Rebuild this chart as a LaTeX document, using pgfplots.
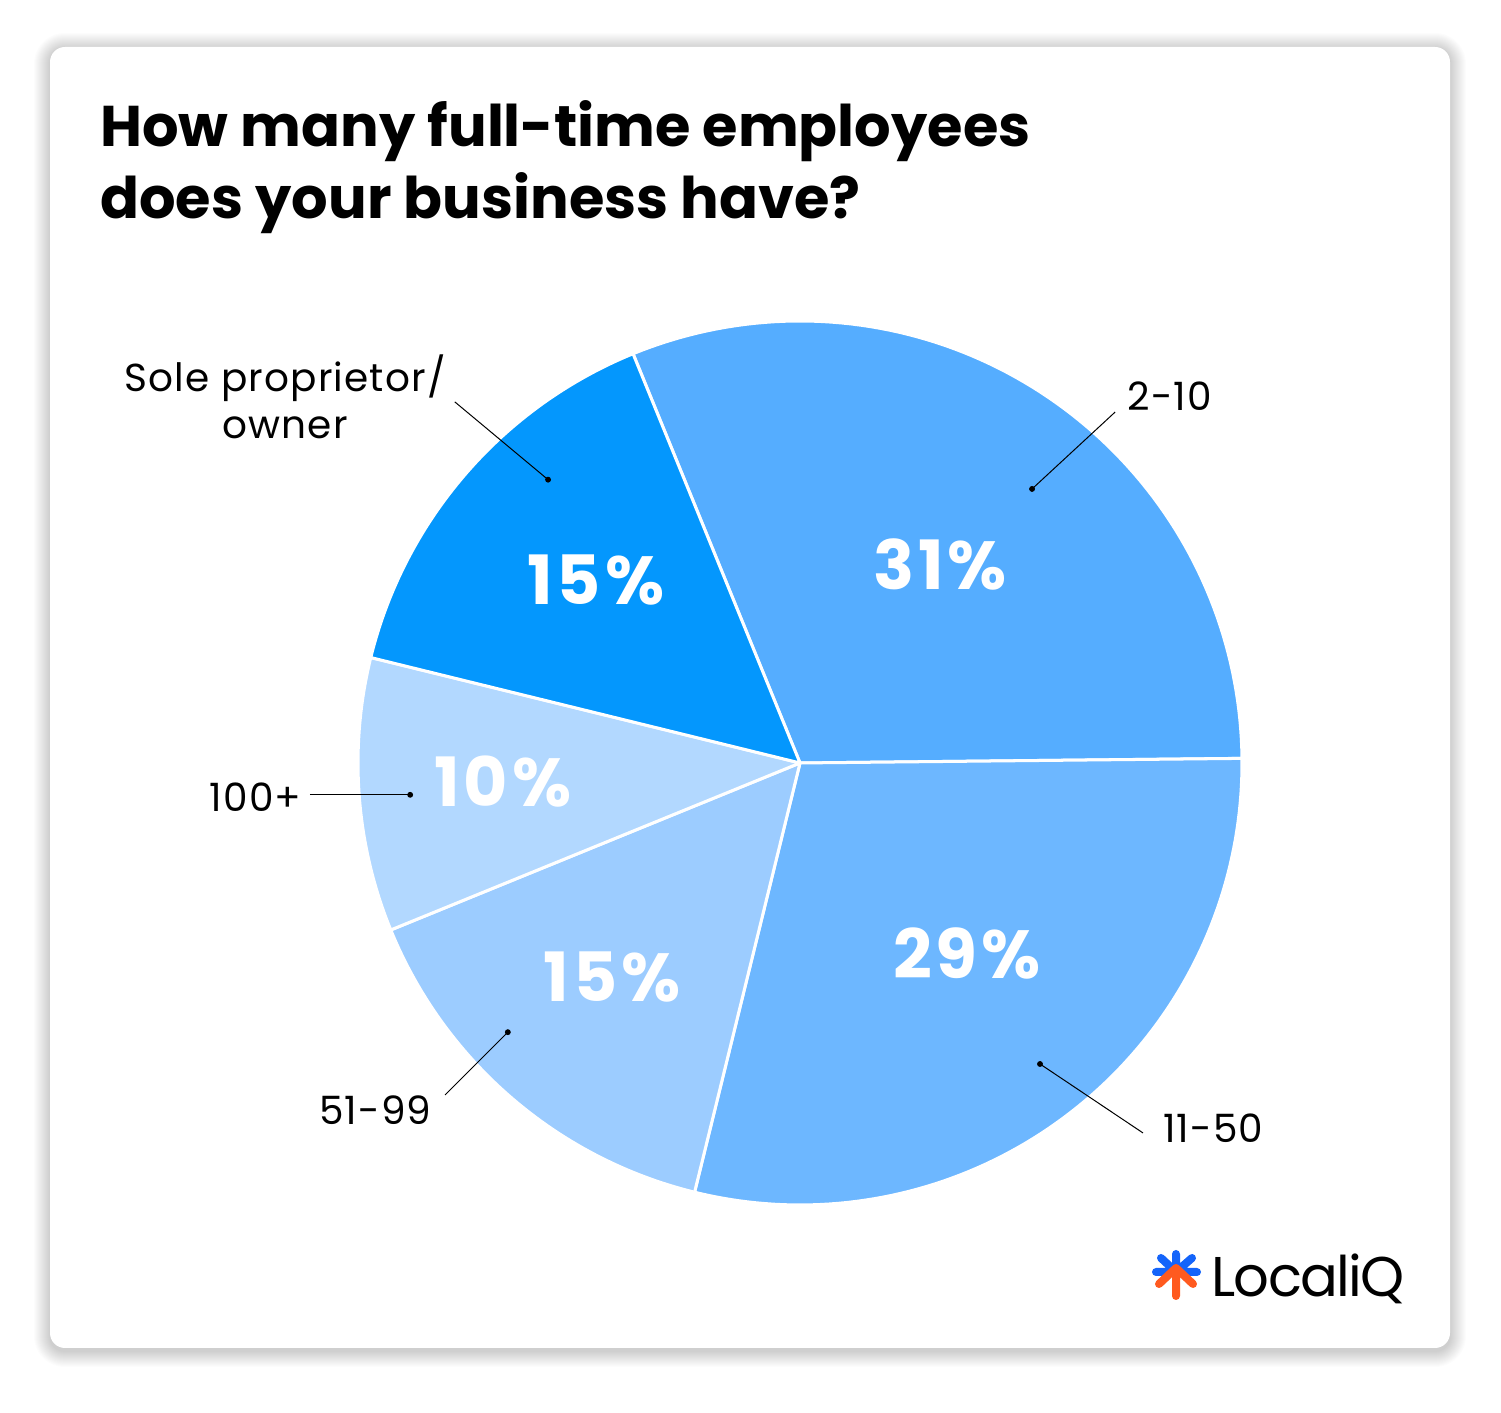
\documentclass[border=0pt]{standalone}
\usepackage{pgfplots}
\pgfplotsset{compat=1.18}
\usepackage{fontspec}
\setmainfont{Poppins}
\newfontfamily\labelfont{Poppins}[LetterSpace=3]
\newfontfamily\pctfont{Poppins}[LetterSpace=6]
\newfontfamily\logofont{Poppins}[LetterSpace=-3]
\definecolor{cSole}{HTML}{0497FD}
\definecolor{cTwo}{HTML}{55ADFF}
\definecolor{cEleven}{HTML}{6DB7FF}
\definecolor{cFifty}{HTML}{9CCCFF}
\definecolor{cHundred}{HTML}{B2D8FF}
\definecolor{logoblue}{HTML}{1464FA}
\definecolor{logoorange}{HTML}{FF5A1F}
% shares (percent), clockwise from the 2-10 slice
\def\pTwo{31}\def\pEleven{29}\def\pFifty{15}\def\pHundred{10}\def\pSole{15}
\pgfmathsetmacro\aS{112.2}
\pgfmathsetmacro\aA{\aS-\pTwo*3.6}
\pgfmathsetmacro\aB{\aA-\pEleven*3.6}
\pgfmathsetmacro\aC{\aB-\pFifty*3.6}
\pgfmathsetmacro\aD{\aC-\pHundred*3.6}
\pgfmathsetmacro\aE{\aD-\pSole*3.6}
\begin{document}
\begin{tikzpicture}[x=0.5pt,y=0.5pt]
\fill[white] (0,0) rectangle (1501,1413);
\foreach \i in {1,...,16} {
  \pgfmathsetmacro\rr{7.5+0.5*\i}
  \fill[black, opacity=0.010, rounded corners=\rr pt] (50-\i,65-\i-3) rectangle (1450+\i,1366+\i-2);
}
\fill[white, rounded corners=7.5pt] (50,65) rectangle (1450,1366);
\node[anchor=base west, inner sep=0pt, font=\bfseries\fontsize{28.7}{36}\selectfont] at (100,1266) {How many full-time employees};
\node[anchor=base west, inner sep=0pt, font=\bfseries\fontsize{28.7}{36}\selectfont] at (100,1194) {does your business have?};
% logo
\draw[logoblue, line width=4pt, line cap=round] (1176,159) -- (1176,141) (1156,141) -- (1197,141) (1161,155) -- (1176,141) -- (1192,155);
\draw[logoorange, line width=4pt, line cap=round, line join=round] (1159,129) -- (1176,145) -- (1193,129) (1176,145) -- (1176,117);
\node[anchor=base west, inner sep=0pt, font=\logofont\fontsize{28}{34}\selectfont] at (1211,116) {LocaliQ};
\begin{axis}[at={(400pt,325pt)}, anchor=origin, x=221pt, y=221pt,
  xmin=-1.6, xmax=1.6, ymin=-1.25, ymax=1.25, hide axis, clip=false]
\addplot[draw=white, line width=1.5pt, line join=round, fill=cTwo, domain=\aA:\aS, samples=90] ({cos(x)},{sin(x)}) -- (axis cs:0,0) -- cycle;
\addplot[draw=white, line width=1.5pt, line join=round, fill=cEleven, domain=\aB:\aA, samples=90] ({cos(x)},{sin(x)}) -- (axis cs:0,0) -- cycle;
\addplot[draw=white, line width=1.5pt, line join=round, fill=cFifty, domain=\aC:\aB, samples=60] ({cos(x)},{sin(x)}) -- (axis cs:0,0) -- cycle;
\addplot[draw=white, line width=1.5pt, line join=round, fill=cHundred, domain=\aD:\aC, samples=50] ({cos(x)},{sin(x)}) -- (axis cs:0,0) -- cycle;
\addplot[draw=white, line width=1.5pt, line join=round, fill=cSole, domain=\aE:\aD, samples=60] ({cos(x)},{sin(x)}) -- (axis cs:0,0) -- cycle;
% percentages
\begin{scope}[every node/.style={text=white, font=\pctfont\bfseries\fontsize{34}{38}\selectfont, inner sep=0pt}]
\node at (axis cs:0.317,0.448) {31\%};
\node at (axis cs:0.378,-0.430) {29\%};
\node at (axis cs:-0.462,0.414) {15\%};
\node at (axis cs:-0.672,-0.043) {10\%};
\node at (axis cs:-0.425,-0.484) {15\%};
\end{scope}
% leader lines
\pgfplotsset{leader/.style={black, line width=0.5pt, mark=*, mark size=1.2pt, mark indices={2}, mark options={fill=black, solid}}}
\addplot[leader] coordinates {(-0.781,0.817) (-0.570,0.641)};
\addplot[leader] coordinates {(0.713,0.794) (0.525,0.620)};
\addplot[leader] coordinates {(-1.109,-0.072) (-0.882,-0.072)};
\addplot[leader] coordinates {(-0.803,-0.751) (-0.661,-0.609)};
\addplot[leader] coordinates {(0.776,-0.837) (0.543,-0.681)};
\begin{scope}[every node/.style={font=\labelfont\fontsize{19.5}{23.5}\selectfont, inner sep=0pt}]
\node[align=center] at (axis cs:-1.165,0.829) {Sole proprietor/\\owner};
\node[anchor=west] at (axis cs:0.740,0.830) {2-10};
\node[anchor=east] at (axis cs:-1.127,-0.077) {100+};
\node[anchor=east] at (axis cs:-0.833,-0.785) {51-99};
\node[anchor=west] at (axis cs:0.821,-0.826) {11-50};
\end{scope}
\end{axis}
\end{tikzpicture}
\end{document}
